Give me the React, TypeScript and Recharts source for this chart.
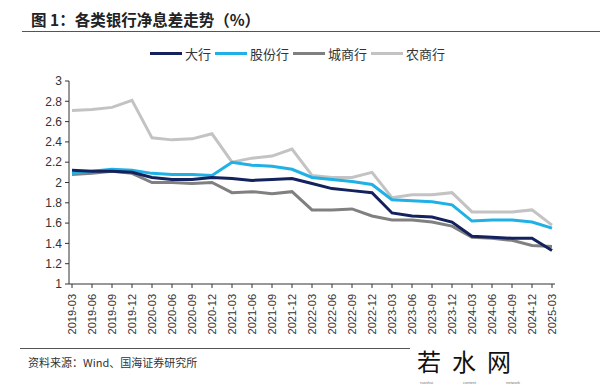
import { LineChart, Line, XAxis, YAxis } from 'recharts';

const QUARTERS = [
  '2019-03', '2019-06', '2019-09', '2019-12',
  '2020-03', '2020-06', '2020-09', '2020-12',
  '2021-03', '2021-06', '2021-09', '2021-12',
  '2022-03', '2022-06', '2022-09', '2022-12',
  '2023-03', '2023-06', '2023-09', '2023-12',
  '2024-03', '2024-06', '2024-09', '2024-12',
  '2025-03',
];

const BIG = [2.12, 2.11, 2.11, 2.10, 2.05, 2.03, 2.03, 2.05, 2.04, 2.02, 2.03, 2.04, 1.99, 1.94, 1.92, 1.90, 1.70, 1.67, 1.66, 1.61, 1.47, 1.46, 1.45, 1.45, 1.33];
const JOINT = [2.09, 2.11, 2.13, 2.12, 2.09, 2.08, 2.08, 2.07, 2.20, 2.17, 2.16, 2.13, 2.05, 2.03, 2.01, 1.98, 1.83, 1.82, 1.81, 1.78, 1.62, 1.63, 1.63, 1.61, 1.55];
const CITY = [2.08, 2.09, 2.11, 2.09, 2.00, 2.00, 1.99, 2.00, 1.90, 1.91, 1.89, 1.91, 1.73, 1.73, 1.74, 1.67, 1.63, 1.63, 1.61, 1.57, 1.46, 1.45, 1.43, 1.38, 1.37];
const RURAL = [2.71, 2.72, 2.74, 2.81, 2.44, 2.42, 2.43, 2.48, 2.20, 2.24, 2.26, 2.33, 2.07, 2.05, 2.05, 2.10, 1.85, 1.88, 1.88, 1.90, 1.71, 1.71, 1.71, 1.73, 1.58];

const Y_TICKS = [1, 1.2, 1.4, 1.6, 1.8, 2, 2.2, 2.4, 2.6, 2.8, 3];

const SERIES = [
  { key: 'big', name: '大行', color: '#13215c' },
  { key: 'joint', name: '股份行', color: '#1fb0e6' },
  { key: 'city', name: '城商行', color: '#808080' },
  { key: 'rural', name: '农商行', color: '#c3c3c3' },
];

const data = QUARTERS.map((q, i) => ({
  q,
  big: BIG[i],
  joint: JOINT[i],
  city: CITY[i],
  rural: RURAL[i],
}));

const ARIAL = '"Liberation Sans", Arial, sans-serif';
const CJK = '"Noto Sans CJK SC", sans-serif';

function QuarterTick(props: any) {
  const { x, y, payload } = props;
  return (
    <text
      x={x}
      y={y + 4}
      transform={`rotate(-90, ${x}, ${y + 4})`}
      textAnchor="end"
      dominantBaseline="central"
      fontSize={11}
      fontFamily={ARIAL}
      fill="#333"
    >
      {payload.value}
    </text>
  );
}

export default function App() {
  return (
    <div style={{ position: 'absolute', left: 0, top: 0, width: 600, height: 389, background: '#fff', overflow: 'hidden' }}>
      <div style={{ position: 'absolute', left: 31, top: 8, fontFamily: CJK, fontWeight: 700, fontSize: 15.5, lineHeight: '22px', color: '#222' }}>
        图 1：各类银行净息差走势（%）
      </div>
      <div style={{ position: 'absolute', left: 22, top: 31, width: 578, height: 1, background: '#555' }} />

      <div style={{ position: 'absolute', left: 150, top: 44, display: 'flex', alignItems: 'center', fontFamily: CJK, fontSize: 13, color: '#333' }}>
        {SERIES.map((s) => (
          <div key={s.key} style={{ display: 'flex', alignItems: 'center', marginRight: 4 }}>
            <div style={{ width: 32, height: 3, background: s.color, marginRight: 3 }} />
            <span>{s.name}</span>
          </div>
        ))}
      </div>

      <div style={{ position: 'absolute', left: 0, top: 0 }}>
        <LineChart width={600} height={389} data={data} margin={{ top: 81, right: 45, bottom: 0, left: 0 }}>
          <XAxis
            dataKey="q"
            interval={0}
            height={105}
            padding={{ left: 3, right: 3 }}
            tick={<QuarterTick />}
            tickSize={4}
            axisLine={{ stroke: '#333' }}
            tickLine={{ stroke: '#333' }}
          />
          <YAxis
            width={69}
            domain={[1, 3]}
            ticks={Y_TICKS}
            interval={0}
            tickSize={4}
            tickMargin={3}
            axisLine={{ stroke: '#333' }}
            tickLine={{ stroke: '#333' }}
            tick={{ fontSize: 12, fontFamily: ARIAL, fill: '#333' }}
          />
          {[...SERIES].reverse().map((s) => (
            <Line
              key={s.key}
              dataKey={s.key}
              name={s.name}
              stroke={s.color}
              strokeWidth={3}
              dot={false}
              isAnimationActive={false}
            />
          ))}
        </LineChart>
      </div>

      <div style={{ position: 'absolute', left: 20, top: 348, width: 390, height: 1, background: '#555' }} />
      <div style={{ position: 'absolute', left: 28, top: 354, fontFamily: CJK, fontSize: 11, lineHeight: '16px', color: '#333' }}>
        资料来源：Wind、国海证券研究所
      </div>
      <div style={{ position: 'absolute', left: 417, top: 347, fontFamily: CJK, fontSize: 24, color: '#111', letterSpacing: 11, lineHeight: '28px' }}>
        若水网
      </div>
      <div style={{ position: 'absolute', left: 420, top: 380, width: 100, display: 'flex', justifyContent: 'space-between', fontFamily: ARIAL, fontSize: 4, color: '#777' }}>
        <span>ruoshui</span>
        <span>content</span>
        <span>network</span>
      </div>
    </div>
  );
}
